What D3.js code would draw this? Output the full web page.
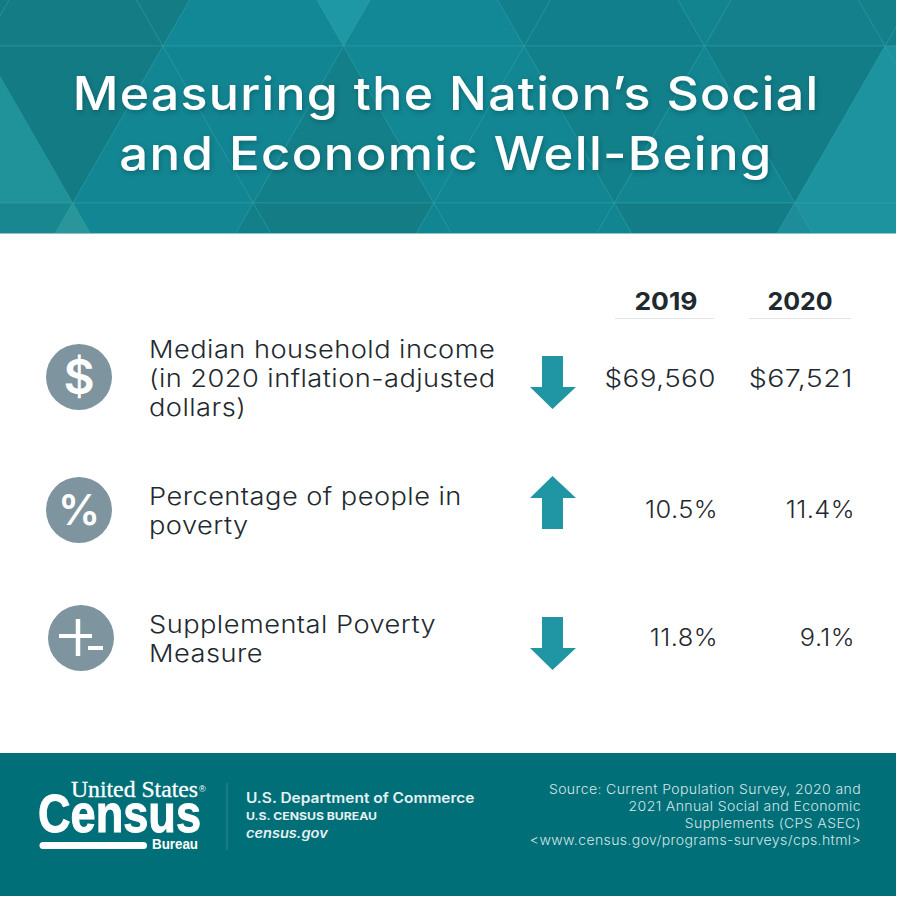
<!DOCTYPE html>
<html><head><meta charset="utf-8">
<script src="https://cdn.jsdelivr.net/npm/d3@7/dist/d3.min.js"></script>
<style>html,body{margin:0;padding:0;background:#fff}svg{display:block}</style>
</head><body><div id="c"></div>
<script>
const titleLines = ["Measuring the Nation’s Social", "and Economic Well-Being"];
const years = ["2019", "2020"];
const measures = ["income", "poverty", "spm"];
const measureLabels = [
  ["Median household income", "(in 2020 inflation-adjusted", "dollars)"],
  ["Percentage of people in", "poverty"],
  ["Supplemental Poverty", "Measure"]
];
const values2019 = [69560, 10.5, 11.8];
const values2020 = [67521, 11.4, 9.1];
const valueKinds = ["dollar", "percent", "percent"];
const sourceLines = ["Source: Current Population Survey, 2020 and", "2021 Annual Social and Economic", "Supplements (CPS ASEC)", "<www.census.gov/programs-surveys/cps.html>"];
const deptLines = ["U.S. Department of Commerce", "U.S. CENSUS BUREAU", "census.gov"];

const W = 901, H = 901, R = 896;
const sans = "Inter, 'Open Sans', sans-serif";
const svg = d3.select("#c").append("svg").attr("width", W).attr("height", H);
const defs = svg.append("defs");
defs.append("clipPath").attr("id", "hdr").append("rect").attr("width", R).attr("height", 234);
const blur = defs.append("filter").attr("id", "sh").attr("x", "-5%").attr("y", "-20%").attr("width", "110%").attr("height", "140%");
blur.append("feDropShadow").attr("dx", 1).attr("dy", 2).attr("stdDeviation", 2.5).attr("flood-color", "#063a40").attr("flood-opacity", .4);

// widen a selection of text horizontally by a factor, keeping its anchor
function widen(sel, f) {
  sel.each(function (d, i) {
    const k = typeof f === "function" ? f(d, i) : f;
    this.setAttribute("textLength", this.getComputedTextLength() * k);
    this.setAttribute("lengthAdjust", "spacingAndGlyphs");
  });
  return sel;
}

svg.append("rect").attr("width", W).attr("height", H).attr("fill", "#fff");

// Header: triangular lattice
const hdr = svg.append("g").attr("clip-path", "url(#hdr)");
hdr.append("rect").attr("width", R).attr("height", 234).attr("fill", "#128592");
const lx = d3.scaleLinear().domain([0, 1]).range([-17.5, 163]);
const ly = d3.scaleLinear().domain([0, 1]).range([46, 203]);
const P = (u, j) => [lx(u), ly(j)];
// "d": flat side on row j, apex on row j+1; "u": apex on row j, flat side on row j+1
const tris = [
  [1,-1,"u","#147c85"],[2,-1,"u","#128795"],[3,-1,"u","#128795"],[4,-1,"u","#12808c"],[5,-1,"u","#14808c"],[6,-1,"u","#14808c"],
  [0,-1,"d","#147b84"],[1,-1,"d","#147c85"],[2,-1,"d","#1f98a6"],[3,-1,"d","#12808c"],[4,-1,"d","#128490"],[5,-1,"d","#14808a"],
  [0,0,"u","#1f9399"],[1,0,"u","#128692"],[2,0,"u","#137f88"],[3,0,"u","#128692"],[4,0,"u","#128590"],[5,0,"u","#1e93a0"],
  [0,0,"d","#137b84"],[1,0,"d","#128592"],[2,0,"d","#128894"],[3,0,"d","#12808a"],[4,0,"d","#127d87"],[5,0,"d","#1e93a0"],
  [-1,1,"d","#19878f"],[0,1,"d","#128692"],[1,1,"d","#137c85"],[2,1,"d","#128592"],[3,1,"d","#127d86"],[4,1,"d","#1e93a0"],
  [0,1,"u","#2a959b"],[1,1,"u","#137f88"],[2,1,"u","#128592"],[3,1,"u","#128592"],[4,1,"u","#1c8d99"],[5,1,"u","#1e93a0"]
];
const triPts = ([i, j, k]) => {
  const o = j * 0.5;
  return k === "d"
    ? [P(i + o, j), P(i + 1 + o, j), P(i + o + .5, j + 1)]
    : [P(i + o - .5, j + 1), P(i + o + .5, j + 1), P(i + o, j)];
};
hdr.selectAll("polygon").data(tris).join("polygon")
  .attr("points", d => triPts(d).join(" "))
  .attr("fill", d => d[3])
  .attr("stroke", "#3aa5ab").attr("stroke-opacity", .5).attr("stroke-width", .8);
hdr.append("rect").attr("y", 233).attr("width", R).attr("height", 1.5).attr("fill", "#8cc6cb");

svg.append("g").attr("filter", "url(#sh)").selectAll("text").data(titleLines).join("text")
  .attr("x", 446).attr("y", (d, i) => 110 + i * 60).attr("text-anchor", "middle")
  .attr("font-family", sans).attr("font-weight", 500).attr("font-size", 46).attr("letter-spacing", 1.2)
  .attr("fill", "#fff").text(d => d).call(widen, (d, i) => i === 0 ? 1.088 : 1.105);

// Table
const col = d3.scaleOrdinal().domain(years).range([716, 853]);
const head = d3.scaleOrdinal().domain(years).range([666, 800]);
const rule = d3.scaleOrdinal().domain(years).range([[615, 714], [749, 851]]);
const row = d3.scaleOrdinal().domain(measures).range([377, 510, 638]);
const iconX = d3.scaleOrdinal().domain(measures).range([79, 79, 81]);
const ink = "#1f2a30", slate = "#7e949e", teal = "#2095a3";

const heads = svg.append("g").selectAll("g").data(years).join("g");
heads.append("text").attr("x", d => head(d)).attr("y", 310).attr("text-anchor", "middle")
  .attr("font-family", sans).attr("font-weight", 700).attr("font-size", 24.5).attr("fill", ink).text(d => d)
  .call(widen, (d, i) => i === 0 ? 1.08 : 1.02);
heads.append("line").attr("x1", d => rule(d)[0]).attr("x2", d => rule(d)[1]).attr("y1", 318.5).attr("y2", 318.5)
  .attr("stroke", "#dfe4e6");

const fmt = (v, k) => k === "dollar" ? d3.format("$,")(v) : d3.format(".1f")(v) + "%";
const rows = svg.append("g").selectAll("g").data(measures).join("g")
  .attr("transform", m => `translate(0,${row(m)})`);

rows.append("circle").attr("cx", m => iconX(m)).attr("cy", 0).attr("r", 33).attr("fill", slate);
rows.filter(m => m !== "spm").append("text").attr("x", m => iconX(m)).attr("y", (m, i) => i === 0 ? 17 : 15)
  .attr("text-anchor", "middle").attr("font-family", sans).attr("font-weight", 600).attr("font-size", (m, i) => i === 0 ? 48 : 42)
  .attr("fill", "#fff").text((m, i) => i === 0 ? "$" : "%");
const spm = rows.filter(m => m === "spm");
spm.append("line").attr("x1", 59).attr("x2", 92).attr("y1", -2).attr("y2", -2).attr("stroke", "#fff").attr("stroke-width", 4);
spm.append("line").attr("x1", 78).attr("x2", 78).attr("y1", -19).attr("y2", 18).attr("stroke", "#fff").attr("stroke-width", 4.5);
spm.append("line").attr("x1", 88).attr("x2", 103).attr("y1", 10).attr("y2", 10).attr("stroke", "#fff").attr("stroke-width", 4);

rows.each(function (m, i) {
  const n = measureLabels[i].length;
  d3.select(this).selectAll("text.lab").data(measureLabels[i]).join("text").attr("class", "lab")
    .attr("x", 149).attr("y", (d, j) => (j - (n - 1) / 2) * 29 + 9.5)
    .attr("font-family", sans).attr("font-weight", 300).attr("font-size", 24).attr("letter-spacing", .4)
    .attr("fill", ink).text(d => d).call(widen, 1.135);
});

const arrowShape = [[-11, -27], [10, -27], [10, 4], [23, 4], [-.5, 26], [-23, 4], [-11, 4]];
rows.append("path")
  .attr("d", d3.line()(arrowShape) + "Z")
  .attr("fill", teal)
  .attr("transform", (m, i) => values2020[i] > values2019[i] ? "translate(553,-8) scale(1,-1)" : "translate(553,6)");

years.forEach((y, k) => {
  const vals = k === 0 ? values2019 : values2020;
  rows.append("text")
    .attr("x", (m, i) => col(y) + (valueKinds[i] === "percent" ? 2 : 0))
    .attr("y", (m, i) => valueKinds[i] === "percent" ? 8 : 9.5).attr("text-anchor", "end")
    .attr("font-family", sans).attr("font-weight", 300).attr("font-size", 24).attr("letter-spacing", .4)
    .attr("fill", ink).text((m, i) => fmt(vals[i], valueKinds[i]))
    .call(widen, (m, i) => valueKinds[i] === "dollar" ? (k === 0 ? 1.16 : 1.19) : 1.06);
});

// Footer
const foot = svg.append("g");
foot.append("rect").attr("y", 753).attr("width", R).attr("height", 143).attr("fill", "#006f78");
foot.append("text").attr("x", 71).attr("y", 797).attr("font-family", "'Liberation Serif',serif").attr("font-size", 24).attr("fill", "#fff")
  .attr("stroke", "#fff").attr("stroke-width", .3)
  .attr("textLength", 127).attr("lengthAdjust", "spacingAndGlyphs").text("United States");
foot.append("text").attr("x", 199).attr("y", 792).attr("font-family", "'Liberation Sans',sans-serif").attr("font-size", 9).attr("fill", "#fff").text("®");
foot.append("text").attr("x", 38).attr("y", 832).attr("font-family", "'Liberation Sans Narrow','Liberation Sans',sans-serif").attr("font-weight", 700).attr("font-size", 53).attr("fill", "#fff")
  .attr("stroke", "#fff").attr("stroke-width", 1)
  .attr("textLength", 163).attr("lengthAdjust", "spacingAndGlyphs").text("Census");
foot.append("rect").attr("x", 39.5).attr("y", 842).attr("width", 107.5).attr("height", 7).attr("rx", 3.5).attr("fill", "#fff");
foot.append("text").attr("x", 152).attr("y", 849).attr("font-family", "'Liberation Sans Narrow','Liberation Sans',sans-serif").attr("font-weight", 700).attr("font-size", 14).attr("fill", "#fff")
  .attr("textLength", 46).attr("lengthAdjust", "spacingAndGlyphs").text("Bureau");
foot.append("line").attr("x1", 227).attr("x2", 227).attr("y1", 783).attr("y2", 850).attr("stroke", "#2f8a91");

const deptStyle = [[803, 14, 600, "normal", 1.106], [820, 11, 700, "normal", 1.11], [838, 13, 600, "italic", 1.12]];
foot.selectAll("text.dept").data(deptLines).join("text").attr("class", "dept")
  .attr("x", 246).attr("y", (d, i) => deptStyle[i][0]).attr("font-size", (d, i) => deptStyle[i][1])
  .attr("font-weight", (d, i) => deptStyle[i][2]).attr("font-style", (d, i) => deptStyle[i][3])
  .attr("font-family", sans).attr("fill", "#e6f1f2").text(d => d).call(widen, (d, i) => deptStyle[i][4]);
foot.selectAll("text.src").data(sourceLines).join("text").attr("class", "src")
  .attr("x", 861).attr("y", (d, i) => 794 + i * 17).attr("text-anchor", "end")
  .attr("font-family", sans).attr("font-weight", 300).attr("font-size", 13).attr("letter-spacing", .35)
  .attr("fill", "#d5e6e8").text(d => d).call(widen, 1.08);
</script></body></html>
